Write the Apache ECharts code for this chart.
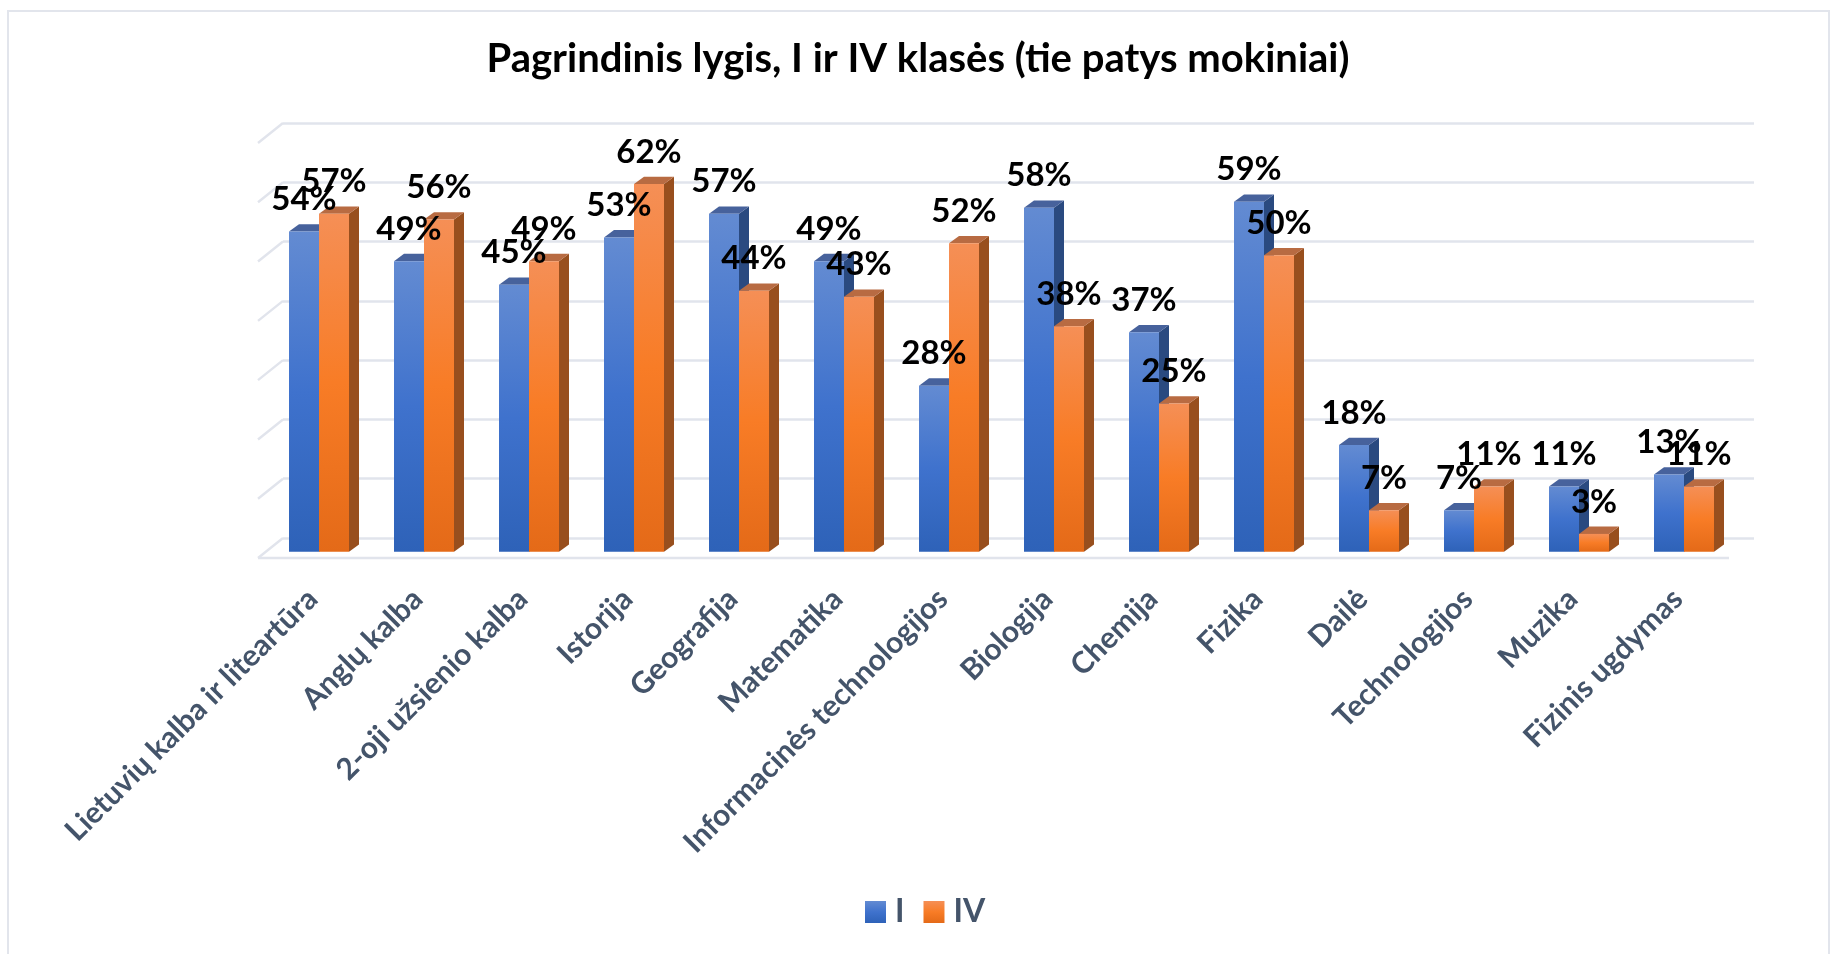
<!DOCTYPE html>
<html>
<head>
<meta charset="utf-8">
<script src="https://cdn.jsdelivr.net/npm/echarts@6/dist/echarts.min.js"></script>
<style>
  html, body { margin: 0; padding: 0; background: #fff; }
  #chart { width: 1830px; height: 954px; }
</style>
</head>
<body>
<div id="chart"></div>
<script>
const categories = ["Lietuvių kalba ir liteartūra", "Anglų kalba", "2-oji užsienio kalba", "Istorija", "Geografija", "Matematika", "Informacinės technologijos", "Biologija", "Chemija", "Fizika", "Dailė", "Technologijos", "Muzika", "Fizinis ugdymas"];
const classI = [54, 49, 45, 53, 57, 49, 28, 58, 37, 59, 18, 7, 11, 13];
const classIV = [57, 56, 49, 62, 44, 43, 52, 38, 25, 50, 7, 11, 3, 11];
const wallTicks = [0, 10, 20, 30, 40, 50, 60, 70];

const FONT = "Lato, 'Noto Sans', sans-serif";
const AXIS_TEXT = "#44546a";
const GRID_LINE = "#e1e4ec";
const BAR_RATIO = 30 / 105; // 单根柱宽 / 类目宽
const DEPTH_X = 10;
const DEPTH_Y = 7.3;

const vGrad = (stops) => new echarts.graphic.LinearGradient(0, 0, 0, 1, stops.map((c, i) => ({ offset: i / (stops.length - 1), color: c })));

const BLUE = { front: ["#638bd2", "#3f72cd", "#2e62b8"], top: "#47629c", side: "#2a4a80" };
const ORANGE = { front: ["#f58f56", "#f87c26", "#e46a18"], top: "#b86b42", side: "#984f1e" };

// 伪 3D 柱：正面 + 顶面 + 侧面
const barRenderer = (colors, dir) => (params, api) => {
  const idx = api.value(0);
  const val = api.value(1);
  const top = api.coord([idx, val]);
  const base = api.coord([idx, 0]);
  const w = api.size([1, 0])[0] * BAR_RATIO;
  const x0 = dir < 0 ? top[0] - w : top[0];
  const x1 = x0 + w;
  const yT = top[1];
  const yB = base[1];
  return {
    type: "group",
    children: [
      {
        type: "polygon",
        shape: { points: [[x1, yB], [x1 + DEPTH_X, yB - DEPTH_Y], [x1 + DEPTH_X, yT - DEPTH_Y], [x1, yT]] },
        style: { fill: colors.side },
      },
      {
        type: "polygon",
        shape: { points: [[x0, yT], [x0 + DEPTH_X, yT - DEPTH_Y], [x1 + DEPTH_X, yT - DEPTH_Y], [x1, yT]] },
        style: { fill: colors.top },
      },
      {
        type: "rect",
        shape: { x: x0, y: yT, width: w, height: yB - yT },
        style: { fill: vGrad(colors.front) },
      },
    ],
  };
};

// 数值标签单独一层，压在所有柱子上面
const labelRenderer = (dir) => (params, api) => {
  const pos = api.coord([api.value(0), api.value(1)]);
  const w = api.size([1, 0])[0] * BAR_RATIO;
  return {
    type: "text",
    x: pos[0] + (dir * w) / 2,
    y: pos[1] - 32,
    style: {
      text: api.value(1) + "%",
      fill: "#000",
      font: `bold 33px ${FONT}`,
      align: "center",
      verticalAlign: "middle",
    },
  };
};

// 左侧斜线和前沿地板线
const wallRenderer = (params, api) => {
  const v = api.value(0);
  const p = api.coord([0, v]);
  const children = [
    {
      type: "line",
      shape: { x1: p[0], y1: p[1], x2: p[0] - 25, y2: p[1] + 20 },
      style: { stroke: GRID_LINE, lineWidth: 2.5 },
    },
  ];
  if (v === 0) {
    const end = api.coord([1, 0]);
    children.push({
      type: "line",
      shape: { x1: p[0] - 25, y1: p[1] + 20, x2: end[0] - 25, y2: p[1] + 20 },
      style: { stroke: GRID_LINE, lineWidth: 2.5 },
    });
  }
  return { type: "group", children };
};

const chart = echarts.init(document.getElementById("chart"));

chart.setOption({
  backgroundColor: "#fff",
  animation: false,
  title: {
    text: "Pagrindinis lygis, I ir IV klasės (tie patys mokiniai)",
    left: 913,
    top: 34,
    textAlign: "center",
    textStyle: { fontFamily: FONT, fontSize: 40, fontWeight: "bold", color: "#000" },
  },
  legend: {
    data: ["I", "IV"],
    left: 860,
    top: 891,
    itemWidth: 21,
    itemHeight: 22,
    itemGap: 19,
    icon: "rect",
    textStyle: { fontFamily: FONT, fontSize: 32, fontWeight: "bold", color: AXIS_TEXT, padding: [0, 0, 0, 4] },
  },
  grid: [
    { left: 266.5, right: 93.5, top: 136.6, bottom: 402.3 },
    { left: 283, right: 76, top: 123, bottom: 416 },
  ],
  xAxis: [
    {
      type: "category",
      gridIndex: 0,
      data: categories,
      axisLine: { show: false },
      axisTick: { show: false },
      axisLabel: { interval: 0, rotate: 45, margin: 36, padding: [0, 9, 0, 0], fontFamily: FONT, fontSize: 30, fontWeight: "bold", color: AXIS_TEXT },
    },
    { type: "value", gridIndex: 1, min: 0, max: 1, show: false },
  ],
  yAxis: [
    { type: "value", gridIndex: 0, min: 0, max: 70, show: false },
    {
      type: "value",
      gridIndex: 1,
      min: 0,
      max: 70,
      interval: 10,
      axisLine: { show: false },
      axisTick: { show: false },
      axisLabel: { show: false },
      splitLine: { lineStyle: { color: GRID_LINE, width: 2.5 } },
    },
  ],
  series: [
    {
      name: "walls",
      type: "custom",
      xAxisIndex: 1,
      yAxisIndex: 1,
      renderItem: wallRenderer,
      encode: { y: 0 },
      data: wallTicks,
      z: 1,
    },
    {
      name: "I",
      type: "custom",
      renderItem: barRenderer(BLUE, -1),
      encode: { x: 0, y: 1 },
      itemStyle: { color: vGrad(BLUE.front) },
      data: classI.map((v, i) => [i, v]),
      z: 2,
    },
    {
      name: "IV",
      type: "custom",
      renderItem: barRenderer(ORANGE, 1),
      encode: { x: 0, y: 1 },
      itemStyle: { color: vGrad(ORANGE.front) },
      data: classIV.map((v, i) => [i, v]),
      z: 3,
    },
    {
      name: "labels I",
      type: "custom",
      renderItem: labelRenderer(-1),
      encode: { x: 0, y: 1 },
      data: classI.map((v, i) => [i, v]),
      z: 10,
    },
    {
      name: "labels IV",
      type: "custom",
      renderItem: labelRenderer(1),
      encode: { x: 0, y: 1 },
      data: classIV.map((v, i) => [i, v]),
      z: 10,
    },
  ],
  graphic: [
    {
      type: "rect",
      silent: true,
      z: 0,
      shape: { x: 8, y: 11, width: 1821, height: 960 },
      style: { fill: "none", stroke: "#e2e5ec", lineWidth: 2 },
    },
  ],
});
</script>
</body>
</html>
